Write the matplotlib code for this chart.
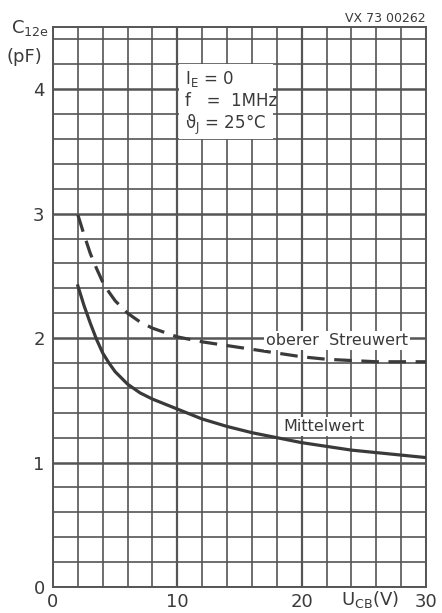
import matplotlib
matplotlib.use("Agg")
import matplotlib.pyplot as plt
from matplotlib.patches import Rectangle
import numpy as np

# Data
x_mittel = [2, 2.5, 3, 3.5, 4, 4.5, 5, 6, 7, 8, 10, 12, 14, 16, 18, 20, 22, 24, 26, 28, 30]
y_mittel = [2.42, 2.26, 2.12, 1.99, 1.88, 1.80, 1.73, 1.63, 1.56, 1.51, 1.43, 1.35, 1.29, 1.24, 1.20, 1.16, 1.13, 1.10, 1.08, 1.06, 1.04]
x_streu = [2, 2.5, 3, 3.5, 4, 4.5, 5, 6, 7, 8, 10, 12, 14, 16, 18, 20, 22, 24, 26, 28, 30]
y_streu = [2.99, 2.83, 2.68, 2.56, 2.45, 2.37, 2.30, 2.20, 2.13, 2.08, 2.01, 1.97, 1.94, 1.91, 1.88, 1.85, 1.83, 1.82, 1.81, 1.81, 1.81]
x_ticks = [0, 10, 20, 30]
y_ticks = [0, 1, 2, 3, 4]

ink = "#3a3a3a"
gridc = "#555555"

fig = plt.figure(figsize=(4.42, 6.13), dpi=100)
ax = fig.add_axes([53/442, 1-587/613, (426-53)/442, (587-27)/613])
ax.set_xlim(0, 30)
ax.set_ylim(0, 4.5)

# grid
for xv in np.arange(0, 30.01, 2):
    lw = 1.6 if xv in (10, 20) else 1.2
    ax.axvline(xv, color=gridc, lw=lw, zorder=1)
for yv in np.arange(0, 4.41, 0.2):
    lw = 1.8 if abs(yv - round(yv)) < 1e-6 else 1.2
    ax.axhline(yv, color=gridc, lw=lw, zorder=1)

for s in ax.spines.values():
    s.set_color(gridc)
    s.set_linewidth(1.4)

ax.plot(x_mittel, y_mittel, color=ink, lw=2.3, zorder=3, solid_joinstyle="round")
ax.plot(x_streu, y_streu, color=ink, lw=2.3, zorder=3, dashes=(5.5, 3))

ax.set_xticks(x_ticks)
ax.set_yticks(y_ticks)
ax.set_xticklabels([str(v) for v in x_ticks])
ax.set_yticklabels([str(v) for v in y_ticks])
ax.tick_params(axis="both", length=0, labelsize=13, colors=ink, pad=6)
ax.tick_params(axis="x", pad=4)

# text boxes
ax.add_patch(Rectangle((10.1, 3.6), 7.6, 0.6, facecolor="white", edgecolor="none", zorder=2))
ax.text(10.6, 3.89, "I$_\\mathregular{E}$ = 0\nf   =  1MHz\nϑ$_\\mathregular{J}$ = 25°C",
        fontsize=12, color=ink, va="center", ha="left", linespacing=1.2, zorder=4)
bbox = dict(facecolor="white", edgecolor="none", pad=1.5)
ax.text(22.85, 1.98, "oberer  Streuwert", fontsize=11.5, color=ink, ha="center",
        va="center", bbox=bbox, zorder=4)
ax.text(21.8, 1.29, "Mittelwert", fontsize=11.5, color=ink, ha="center",
        va="center", bbox=bbox, zorder=4)

# axis labels
fig.text(30/442, 1-28/613, "C$_\\mathregular{12e}$", fontsize=13, color=ink, ha="center", va="center")
fig.text(24/442, 1-57/613, "(pF)", fontsize=13, color=ink, ha="center", va="center")
fig.text(370/442, 1-600/613, "U$_\\mathregular{CB}$(V)", fontsize=13, color=ink, ha="center", va="center")
fig.text(426/442, 1-19/613, "VX 73 00262", fontsize=9, color=ink, ha="right", va="center")

fig.savefig("out.png", dpi=100, facecolor="white")
